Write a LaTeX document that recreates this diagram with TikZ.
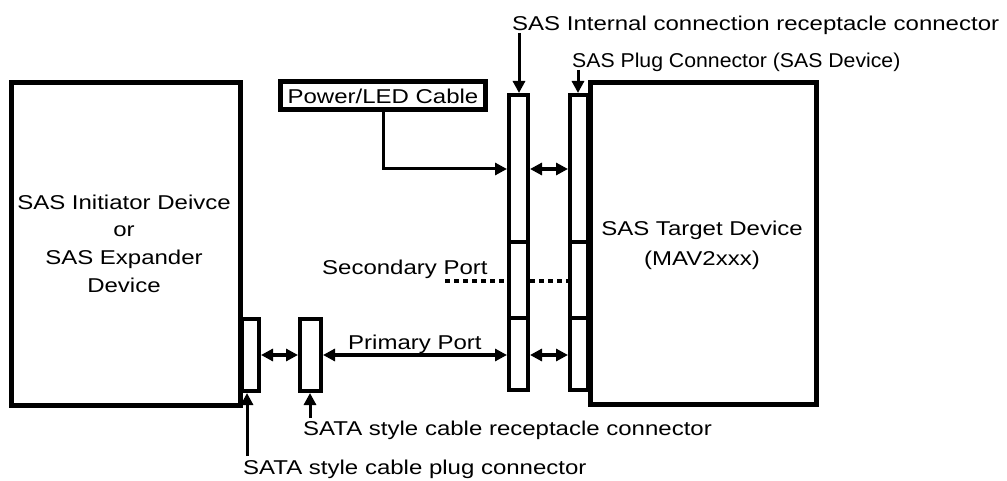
\documentclass[tikz,border=0pt]{standalone}
\usepackage{fontspec}
\setmainfont{Liberation Sans}[FakeStretch=1.2]
\usetikzlibrary{arrows.meta}
\begin{document}
\begin{tikzpicture}[x=1pt,y=-1pt,
  lbl/.style={inner sep=0pt,font=\fontsize{20}{24}\selectfont},
  bigbox/.style={draw,line width=5pt},
  conbox/.style={draw,line width=4pt},
  link/.style={line width=4pt,{Triangle[length=12pt,width=12pt]}-{Triangle[length=12pt,width=12pt]}},
  feed/.style={line width=3pt,-{Triangle[length=12pt,width=12pt]}},
  pointer/.style={line width=3pt,-{Triangle[length=12pt,width=12pt]}},
  dotted line/.style={line width=3pt,dash pattern=on 5pt off 4pt}]
\useasboundingbox (0,0) rectangle (1007,481);
% main boxes
\draw[bigbox] (11,83) rectangle (240,405);
\node[lbl,align=center,font=\fontsize{20}{27.7}\selectfont] (init) at (124,243.5) {SAS Initiator Deivce\\or\\SAS Expander\\Device};
\draw[bigbox] (590,83) rectangle (816,404);
\node[lbl,align=center,font=\fontsize{20}{30}\selectfont] (tgt) at (702,245) {SAS Target Device\\(MAV2xxx)};
% SATA connectors
\draw[conbox] (242,319) rectangle (259,391);
\draw[conbox] (300,319) rectangle (321,391);
\coordinate (c1r) at (261,355);
\coordinate (c2l) at (298,355);
\coordinate (c2r) at (323,355);
% long connectors
\draw[conbox] (509,95) rectangle (528,390);
\draw[conbox] (509,242) -- (528,242);
\draw[conbox] (509,318) -- (528,318);
\draw[conbox] (570,95) rectangle (588,390);
\draw[conbox] (570,242) -- (588,242);
\draw[conbox] (570,318) -- (588,318);
% power box
\node[draw,line width=5pt,minimum width=205pt,minimum height=28pt,inner sep=0pt,font=\fontsize{20}{24}\selectfont] (pwr) at (383,96) {Power/LED Cable};
\coordinate (pwrend) at (507,169);
\coordinate (pwrcorner) at (383,169);
\draw[feed] (pwr.south) -- (pwrcorner) -- (pwrend);
% links
\draw[link] (c1r) -- (c2l);
\coordinate (recl) at (507,355);
\draw[link] (c2r) -- (recl);
\coordinate (a1) at (530,169); \coordinate (b1) at (568,169);
\draw[link] (a1) -- (b1);
\coordinate (a2) at (530,355); \coordinate (b2) at (568,355);
\draw[link] (a2) -- (b2);
% secondary dashed
\coordinate (s0) at (445,281); \coordinate (s1) at (507,281);
\coordinate (s2) at (530,281); \coordinate (s3) at (568,281);
\draw[dotted line] (s0) -- (s1);
\draw[dotted line] (s2) -- (s3);
\node[lbl,anchor=base west] (sec) at (322,274) {Secondary Port};
\node[lbl,anchor=base west] (pri) at (348,349) {Primary Port};
% top labels
\node[lbl,anchor=base west] (intl) at (512,31) {SAS Internal connection receptacle connector};
\node[lbl,anchor=base west] (plgl) at (572,68) {\scalebox{0.885}[1]{SAS Plug Connector (SAS Device)}};
\coordinate (ia) at (519,33); \coordinate (ib) at (519,93);
\draw[pointer] (ia) -- (ib);
\coordinate (pa) at (578,70); \coordinate (pb) at (578,93);
\draw[pointer] (pa) -- (pb);
% bottom labels
\node[lbl,anchor=base west] (recl2) at (303,435) {SATA style cable receptacle connector};
\node[lbl,anchor=base west] (plgl2) at (243,474) {SATA style cable plug connector};
\coordinate (ra) at (310,418); \coordinate (rb) at (310,393);
\draw[pointer] (ra) -- (rb);
\coordinate (qa) at (247,456); \coordinate (qb) at (247,393);
\draw[pointer] (qa) -- (qb);
\end{tikzpicture}
\end{document}
